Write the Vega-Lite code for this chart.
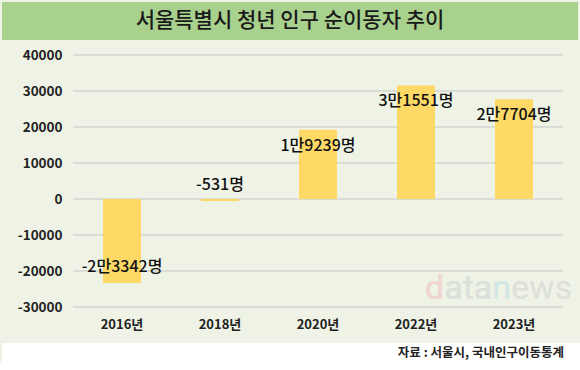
{
  "$schema": "https://vega.github.io/schema/vega-lite/v6.json",
  "padding": {"left": 2, "top": 2, "right": 0, "bottom": 0},
  "background": "#eef3e6",
  "spacing": 6,
  "config": {
    "font": "Noto Sans CJK KR",
    "view": {"stroke": null},
    "axis": {"labelOverlap": false}
  },
  "vconcat": [
    {
      "spacing": 15,
      "bounds": "flush",
      "vconcat": [
        {
          "width": 576,
          "height": 38,
          "view": {"fill": "#a9d18e", "stroke": null},
          "data": {"values": [{"t": "서울특별시 청년 인구 순이동자 추이"}]},
          "mark": {"type": "text", "fontSize": 21, "fontWeight": 500, "color": "#1a1a1a", "baseline": "middle"},
          "encoding": {"text": {"field": "t"}}
        },
        {
          "width": 561,
          "height": 252,
          "resolve": {"scale": {"x": "independent", "y": "shared"}, "axis": {"x": "independent", "y": "independent"}},
          "layer": [
            {
              "data": {"values": [{"g": -30000}, {"g": -20000}, {"g": -10000}, {"g": 0}, {"g": 10000}, {"g": 20000}, {"g": 30000}, {"g": 40000}]},
              "mark": {"type": "rule", "color": "#d9ddd5", "strokeWidth": 2},
              "encoding": {
                "x": {"datum": 0, "type": "quantitative", "scale": {"domain": [-0.145, 1], "nice": false, "zero": false}, "axis": null},
                "x2": {"datum": 1},
                "y": {"field": "g", "type": "quantitative", "scale": {"domain": [-30000, 40000], "nice": false}, "axis": null}
              }
            },
            {
              "resolve": {"axis": {"y": "independent"}},
              "data": {
                "values": [
                  {"year": "2016년", "value": -23342, "label": "-2만3342명"},
                  {"year": "2018년", "value": -531, "label": "-531명"},
                  {"year": "2020년", "value": 19239, "label": "1만9239명"},
                  {"year": "2022년", "value": 31551, "label": "3만1551명"},
                  {"year": "2023년", "value": 27704, "label": "2만7704명"}
                ]
              },
              "encoding": {
                "x": {
                  "field": "year",
                  "type": "nominal",
                  "sort": null,
                  "scale": {"domain": ["2016년", "2018년", "2020년", "2022년", "2023년"], "range": [71, 561], "paddingInner": 0.612, "paddingOuter": 0.306},
                  "axis": {
                    "title": null,
                    "labelAngle": 0,
                    "domain": false,
                    "ticks": false,
                    "grid": false,
                    "labelPadding": 11,
                    "labelFontSize": 13,
                    "labelFontWeight": 600,
                    "labelColor": "#222222",
                    "minExtent": 30,
                    "maxExtent": 30
                  }
                }
              },
              "layer": [
                {
                  "mark": {"type": "bar", "color": "#ffd966"},
                  "encoding": {
                    "y": {"field": "value", "type": "quantitative", "axis": null}
                  }
                },
                {
                  "transform": [{"filter": "datum.value >= 0"}],
                  "mark": {"type": "text", "fontSize": 16, "fontWeight": 500, "color": "#111111", "baseline": "middle", "dy": 16},
                  "encoding": {
                    "y": {
                      "field": "value",
                      "type": "quantitative",
                      "axis": {
                        "orient": "left",
                        "title": null,
                        "values": [-30000, -20000, -10000, 0, 10000, 20000, 30000, 40000],
                        "labelExpr": "'' + datum.value",
                        "labelOverlap": false,
                        "offset": -71,
                        "grid": false,
                        "domain": false,
                        "ticks": false,
                        "labelPadding": 11,
                        "labelFontSize": 13.5,
                        "labelFontWeight": 600,
                        "labelColor": "#222222"
                      }
                    },
                    "text": {"field": "label"}
                  }
                },
                {
                  "transform": [{"filter": "datum.value < 0"}],
                  "mark": {"type": "text", "fontSize": 16, "fontWeight": 500, "color": "#111111", "baseline": "middle", "dy": -16},
                  "encoding": {
                    "y": {"field": "value", "type": "quantitative", "axis": null},
                    "text": {"field": "label"}
                  }
                },
                {
                  "data": {"values": [{"year": "2023년", "value": -25000, "w": "datanews"}]},
                  "mark": {"type": "text", "font": "Roboto", "fontSize": 34, "color": "#dde0d9", "align": "left", "baseline": "middle", "dx": -89},
                  "encoding": {"y": {"field": "value", "type": "quantitative", "axis": null}, "text": {"field": "w"}}
                },
                {
                  "data": {"values": [{"year": "2023년", "value": -25000, "w": "datan"}]},
                  "mark": {"type": "text", "font": "Roboto", "fontSize": 34, "color": "#d2e7e7", "align": "left", "baseline": "middle", "dx": -89},
                  "encoding": {"y": {"field": "value", "type": "quantitative", "axis": null}, "text": {"field": "w"}}
                },
                {
                  "data": {"values": [{"year": "2023년", "value": -25000, "w": "data"}]},
                  "mark": {"type": "text", "font": "Roboto", "fontSize": 34, "color": "#dde0d9", "align": "left", "baseline": "middle", "dx": -89},
                  "encoding": {"y": {"field": "value", "type": "quantitative", "axis": null}, "text": {"field": "w"}}
                },
                {
                  "data": {"values": [{"year": "2023년", "value": -25000, "w": "d"}]},
                  "mark": {"type": "text", "font": "Roboto", "fontSize": 34, "color": "#f2d5cc", "align": "left", "baseline": "middle", "dx": -89},
                  "encoding": {"y": {"field": "value", "type": "quantitative", "axis": null}, "text": {"field": "w"}}
                }
              ]
            }
          ]
        }
      ]
    },
    {
      "width": 578,
      "height": 20,
      "view": {"fill": "#ffffff", "stroke": null},
      "data": {"values": [{"s": "자료 : 서울시, 국내인구이동통계", "pos": 1}]},
      "mark": {"type": "text", "align": "right", "baseline": "middle", "fontSize": 12.5, "fontWeight": 700, "color": "#222222", "dx": -16},
      "encoding": {
        "x": {"field": "pos", "type": "quantitative", "scale": {"domain": [0, 1], "nice": false}, "axis": null},
        "text": {"field": "s"}
      }
    }
  ]
}
